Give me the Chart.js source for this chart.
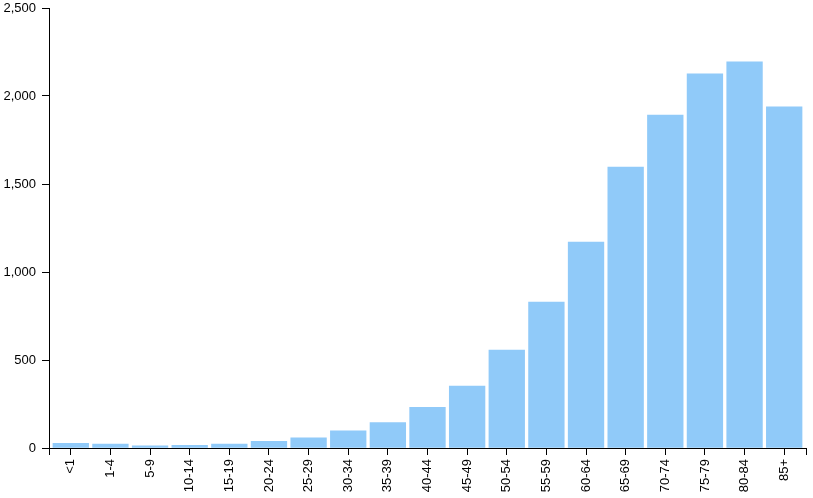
<!DOCTYPE html>
<html>
<head>
<meta charset="utf-8">
<script src="https://cdn.jsdelivr.net/npm/chart.js@4/dist/chart.umd.min.js"></script>
<style>
  html, body { margin: 0; padding: 0; background: #fff; }
  #wrap { width: 813px; height: 498px; position: relative; }
</style>
</head>
<body>
<div id="wrap"><canvas id="c" width="813" height="498"></canvas></div>
<script>
const categories = ["<1","1-4","5-9","10-14","15-19","20-24","25-29","30-34","35-39","40-44","45-49","50-54","55-59","60-64","65-69","70-74","75-79","80-84","85+"];
const values = [27, 22, 12, 15, 22, 38, 58, 97, 144, 231, 352, 557, 829, 1170, 1596, 1892, 2126, 2194, 1939];
const yTicks = [0, 500, 1000, 1500, 2000, 2500];

const pad = 0.55; // band-scale outer padding (in category units)
const points = values.map((v, i) => ({ x: i, y: v }));

Chart.defaults.font.family = "'Liberation Sans', Arial, sans-serif";
Chart.defaults.font.size = 13;
Chart.defaults.color = '#000';

function zeroPad(s) { s.paddingLeft = 0; s.paddingRight = 0; s.paddingTop = 0; s.paddingBottom = 0; }

new Chart(document.getElementById('c'), {
  type: 'bar',
  data: {
    datasets: [{
      data: points,
      backgroundColor: '#90CAF9',
      borderWidth: 0,
      barThickness: 'flex',
      barPercentage: 0.9,
      categoryPercentage: 1.0
    }]
  },
  options: {
    responsive: false,
    animation: false,
    layout: { padding: { top: 8, right: 7, left: 0, bottom: 0 } },
    plugins: { legend: { display: false }, tooltip: { enabled: false } },
    scales: {
      x: {
        type: 'linear',
        offset: false,
        min: -pad,
        max: categories.length - 1 + pad,
        afterBuildTicks: (s) => {
          s.ticks = [{ value: s.min }].concat(categories.map((_, i) => ({ value: i })), [{ value: s.max }]);
        },
        afterFit: (s) => { s.height = 50; zeroPad(s); },
        grid: { display: true, offset: false, drawOnChartArea: false, drawTicks: true, tickLength: 7, color: '#000', lineWidth: 1 },
        border: { display: true, color: '#000', width: 1 },
        ticks: {
          autoSkip: false,
          minRotation: 90,
          maxRotation: 90,
          padding: 4,
          color: '#000',
          callback: (v) => Number.isInteger(v) ? categories[v] : ''
        }
      },
      y: {
        min: 0,
        max: 2500,
        afterBuildTicks: (s) => { s.ticks = yTicks.map(v => ({ value: v })); },
        afterFit: (s) => { s.width = 49; zeroPad(s); },
        grid: { display: true, drawOnChartArea: false, drawTicks: true, tickLength: 7, color: '#000', lineWidth: 1 },
        border: { display: true, color: '#000', width: 1 },
        ticks: { padding: 6, color: '#000', callback: (v) => v.toLocaleString('en-US') }
      }
    }
  }
});
</script>
</body>
</html>
